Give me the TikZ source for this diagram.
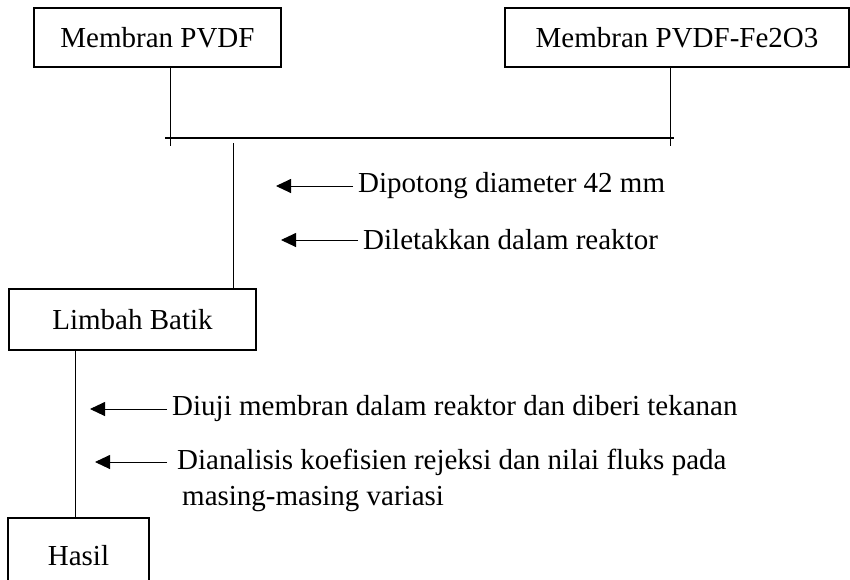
\documentclass[tikz,border=0pt]{standalone}
\usepackage{fontspec}
\setmainfont{Liberation Serif}
\usetikzlibrary{arrows.meta}

\begin{document}
\begin{tikzpicture}[x=1pt, y=-1pt,
    every node/.style={font=\fontsize{29}{35.5}\selectfont},
    box/.style={draw, line width=1.6pt, rectangle, inner sep=0pt},
    stepnote/.style={anchor=west, inner sep=0pt},
    arr/.style={line width=0.9pt, shorten <=5pt, -{Triangle[length=15pt, width=14pt]}}]
    \useasboundingbox (0,0) rectangle (850,579);
    % boxes
    \node[box, minimum width=247pt, minimum height=59pt] (pvdf) at (157.5,37.5) {Membran PVDF};
    \node[box, minimum width=344pt, minimum height=59pt] (fe) at (677,37.5) {Membran PVDF-Fe2O3};
    \node[box, minimum width=247pt, minimum height=61pt] (limbah) at (132.5,319.5) {Limbah Batik};
    \node[box, minimum width=141pt, minimum height=76pt] (hasil) at (78.5,556) {Hasil};
    % joining lines
    \coordinate (j1) at (170,146);
    \coordinate (j2) at (670,146);
    \coordinate (h1) at (165,138);
    \coordinate (h2) at (674,138);
    \coordinate (drop) at (233,143);
    \draw[line width=0.8pt] (pvdf.south -| j1) -- (j1);
    \draw[line width=0.8pt] (fe.south -| j2) -- (j2);
    \draw[line width=1.2pt] (h1) -- (h2);
    \draw[line width=0.8pt] (drop) -- (limbah.north -| drop);
    \draw[line width=0.8pt] (limbah.south -| 75,0) -- (hasil.north -| 75,0);
    % notes with arrows
    \node[stepnote] (cut) at (358,186) {Dipotong diameter 42 mm};
    \node[stepnote] (put) at (363,240) {Diletakkan dalam reaktor};
    \node[stepnote] (test) at (172,409) {Diuji membran dalam reaktor dan diberi tekanan};
    \node[stepnote, anchor=north west, align=left] (anl) at (177,449)
        {Dianalisis koefisien rejeksi dan nilai fluks pada\\\hspace{5pt}masing-masing variasi};
    \coordinate (t1) at (276,186);
    \coordinate (t2) at (281,240);
    \coordinate (t3) at (90,409);
    \coordinate (t4) at (95,462);
    \coordinate (a4) at (172,462);
    \draw[arr] (cut.west) -- (t1);
    \draw[arr] (put.west) -- (t2);
    \draw[arr] (test.west) -- (t3);
    \draw[arr] (a4) -- (t4);
\end{tikzpicture}
\end{document}
